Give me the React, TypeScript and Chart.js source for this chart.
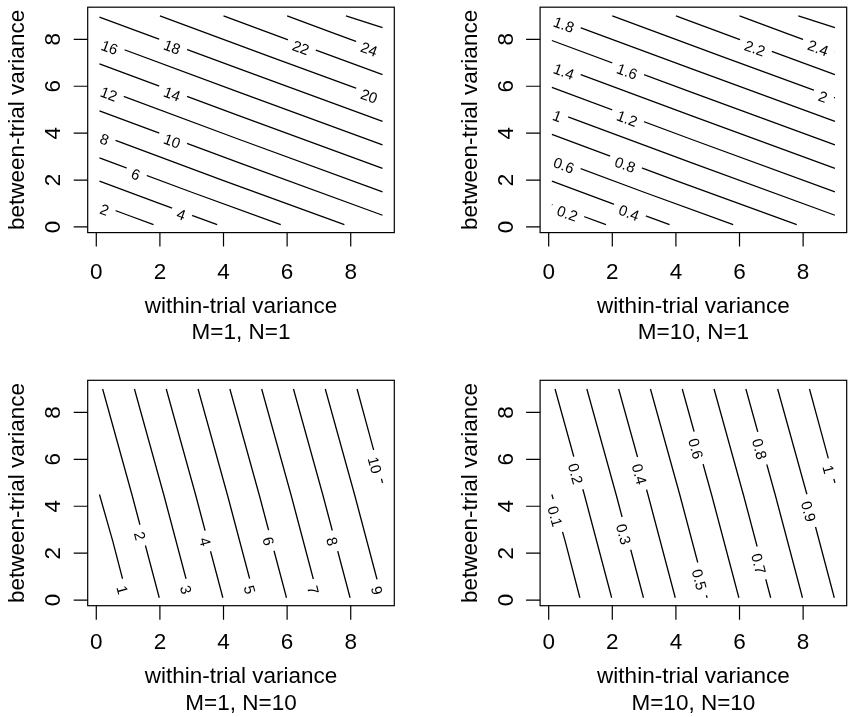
import { useEffect, useRef } from "react";
import { Chart, registerables } from "chart.js";

Chart.register(...registerables);

// ---- shared axis data ----
const X_TICKS = [0, 2, 4, 6, 8];
const Y_TICKS = [0, 2, 4, 6, 8];
const X_TITLE = "within-trial variance";
const Y_TITLE = "between-trial variance";
const X_RANGE = [-0.27, 9.37];
const Y_RANGE = [-0.24, 9.37];

// ---- top row contour lines (within, between) ----
const TOP_LINES: number[][][] = [
  [[0.1, 0.95], [1.0, 0.5], [1.8, 0.1]],
  [[0.1, 1.95], [2.0, 1.0], [3.8, 0.1]],
  [[0.1, 2.95], [3.0, 1.48], [5.8, 0.1]],
  [[0.1, 3.95], [4.0, 1.98], [7.8, 0.1]],
  [[0.1, 4.95], [4.5, 2.73], [9.0, 0.5]],
  [[0.1, 5.95], [4.5, 3.73], [9.0, 1.5]],
  [[0.1, 6.95], [4.5, 4.74], [9.0, 2.5]],
  [[0.1, 7.95], [4.5, 5.74], [9.0, 3.5]],
  [[0.1, 8.95], [4.5, 6.74], [9.0, 4.5]],
  [[2.0, 9.0], [5.5, 7.24], [9.0, 5.5]],
  [[4.0, 9.0], [6.5, 7.74], [9.0, 6.5]],
  [[6.0, 9.0], [7.5, 8.24], [9.0, 7.5]],
  [[7.85, 9.0], [9.0, 8.5]],
];

// ---- bottom row contour lines ----
const BOTTOM_LINES: number[][][] = [
  [[0.1, 4.5], [0.52, 2.5], [0.98, 0.1]],
  [[0.2, 9.0], [1.12, 4.5], [1.98, 0.1]],
  [[1.2, 9.0], [2.12, 4.5], [2.98, 0.1]],
  [[2.2, 9.0], [3.12, 4.5], [3.98, 0.1]],
  [[3.2, 9.0], [4.12, 4.5], [4.98, 0.1]],
  [[4.2, 9.0], [5.12, 4.5], [5.98, 0.1]],
  [[5.2, 9.0], [6.12, 4.5], [6.98, 0.1]],
  [[6.2, 9.0], [7.12, 4.5], [7.98, 0.1]],
  [[7.2, 9.0], [8.12, 4.5], [8.98, 0.1]],
  [[8.2, 9.0], [8.6, 7.0], [9.0, 5.0]],
];

// ---- panel 1: M=1, N=1 ----
const P1_LEVELS = ["2", "4", "6", "8", "10", "12", "14", "16", "18", "20", "22", "24", ""];
const P1_LABEL_AT: (number[] | null)[] = [
  [0.29, 0.85], [2.7, 0.65], [1.27, 2.35], [0.29, 3.85], [2.42, 3.8], [0.43, 5.8],
  [2.42, 5.8], [0.46, 7.8], [2.42, 7.8], [8.61, 5.7], [6.46, 7.75], [8.61, 7.7], null,
];

// ---- panel 2: M=10, N=1 ----
const P2_LEVELS = ["0.2", "0.4", "0.6", "0.8", "1", "1.2", "1.4", "1.6", "1.8", "2", "2.2", "2.4", ""];
const P2_LABEL_AT: (number[] | null)[] = [
  [0.62, 0.7], [2.55, 0.7], [0.51, 2.75], [2.44, 2.8], [0.3, 4.85], [2.5, 4.75],
  [0.51, 6.75], [2.5, 6.75], [0.51, 8.75], [8.66, 5.7], [6.52, 7.75], [8.5, 7.75], null,
];

// ---- panel 3: M=1, N=10 ----
const P3_LEVELS = ["1", "2", "3", "4", "5", "6", "7", "8", "9", "10"];
const P3_LABEL_AT: (number[] | null)[] = [
  [0.75, 0.41], [1.27, 2.7], [2.74, 0.41], [3.42, 2.49], [4.73, 0.41],
  [5.36, 2.49], [6.77, 0.41], [7.4, 2.49], [8.82, 0.41], [8.61, 5.7],
];

// ---- panel 4: M=10, N=10 ----
const P4_LEVELS = ["0.1", "0.2", "0.3", "0.4", "0.5", "0.6", "0.7", "0.8", "0.9", "1"];
const P4_LABEL_AT: (number[] | null)[] = [
  [0.17, 3.56], [0.72, 5.34], [2.24, 2.77], [2.76, 5.34], [4.64, 0.84],
  [4.53, 6.42], [6.62, 1.56], [6.57, 6.42], [8.14, 3.77], [8.76, 5.56],
];

const SUBTITLES = ["M=1, N=1", "M=10, N=1", "M=1, N=10", "M=10, N=10"];

const FONT = '"Liberation Sans", Arial, Helvetica, sans-serif';

type PanelCfg = {
  left: number;
  top: number;
  width: number;
  height: number;
  padding: { left: number; right: number; top: number; bottom: number };
  lines: number[][][];
  levels: string[];
  labelAt: (number[] | null)[];
  sub: string;
  tickBase: number;
  titleBase: number;
  subBase: number;
};

const PANELS: PanelCfg[] = [
  {
    left: 0, top: 0, width: 424, height: 359,
    padding: { left: 87.7, right: 29.7, top: 7.2, bottom: 126.4 },
    lines: TOP_LINES, levels: P1_LEVELS, labelAt: P1_LABEL_AT, sub: SUBTITLES[0],
    tickBase: 46.5, titleBase: 80.7, subBase: 106.5,
  },
  {
    left: 424, top: 0, width: 424, height: 359,
    padding: { left: 116.1, right: 1.3, top: 7.2, bottom: 126.4 },
    lines: TOP_LINES, levels: P2_LEVELS, labelAt: P2_LABEL_AT, sub: SUBTITLES[1],
    tickBase: 46.5, titleBase: 80.7, subBase: 106.5,
  },
  {
    left: 0, top: 359, width: 424, height: 358,
    padding: { left: 87.7, right: 29.7, top: 21.3, bottom: 111.3 },
    lines: BOTTOM_LINES, levels: P3_LEVELS, labelAt: P3_LABEL_AT, sub: SUBTITLES[2],
    tickBase: 43.3, titleBase: 77.6, subBase: 103.8,
  },
  {
    left: 424, top: 359, width: 424, height: 358,
    padding: { left: 116.1, right: 1.3, top: 21.3, bottom: 111.3 },
    lines: BOTTOM_LINES, levels: P4_LEVELS, labelAt: P4_LABEL_AT, sub: SUBTITLES[3],
    tickBase: 43.3, titleBase: 77.6, subBase: 103.8,
  },
];

function makePlugin(cfg: PanelCfg) {
  return {
    id: "rContour",
    afterDatasetsDraw(chart: any) {
      const { ctx, scales } = chart;
      const xs = scales.x;
      const ys = scales.y;
      ctx.save();
      ctx.font = `15px ${FONT}`;
      cfg.labelAt.forEach((lp, i) => {
        const text = cfg.levels[i];
        if (!lp || !text) return;
        const pts = cfg.lines[i].map((p) => [xs.getPixelForValue(p[0]), ys.getPixelForValue(p[1])]);
        const tx = xs.getPixelForValue(lp[0]);
        const ty = ys.getPixelForValue(lp[1]);
        let best = { d: Infinity, px: 0, py: 0, ang: 0 };
        for (let k = 0; k < pts.length - 1; k++) {
          const [ax, ay] = pts[k];
          const [bx, by] = pts[k + 1];
          const dx = bx - ax;
          const dy = by - ay;
          let t = ((tx - ax) * dx + (ty - ay) * dy) / (dx * dx + dy * dy);
          t = Math.max(0, Math.min(1, t));
          const px = ax + t * dx;
          const py = ay + t * dy;
          const d = (px - tx) ** 2 + (py - ty) ** 2;
          if (d < best.d) best = { d, px, py, ang: Math.atan2(dy, dx) };
        }
        let a = best.ang;
        if (a > Math.PI / 2) a -= Math.PI;
        if (a <= -Math.PI / 2) a += Math.PI;
        ctx.save();
        ctx.translate(best.px, best.py);
        ctx.rotate(a);
        const w = ctx.measureText(text).width;
        ctx.fillStyle = "#ffffff";
        ctx.fillRect(-w / 2 - 6.5, -5, w + 13, 10);
        ctx.fillStyle = "#000000";
        ctx.textAlign = "center";
        ctx.textBaseline = "middle";
        ctx.fillText(text, 0, 4);
        ctx.restore();
      });
      ctx.restore();
    },
    afterDraw(chart: any) {
      const { ctx, chartArea: a, scales } = chart;
      const xs = scales.x;
      const ys = scales.y;
      ctx.save();
      ctx.strokeStyle = "#000000";
      ctx.lineWidth = 1.2;
      ctx.strokeRect(a.left, a.top, a.right - a.left, a.bottom - a.top);
      ctx.beginPath();
      X_TICKS.forEach((v) => {
        const px = xs.getPixelForValue(v);
        ctx.moveTo(px, a.bottom);
        ctx.lineTo(px, a.bottom + 14);
      });
      Y_TICKS.forEach((v) => {
        const py = ys.getPixelForValue(v);
        ctx.moveTo(a.left, py);
        ctx.lineTo(a.left - 14, py);
      });
      ctx.stroke();

      ctx.fillStyle = "#000000";
      ctx.font = `22.5px ${FONT}`;
      ctx.textAlign = "center";
      ctx.textBaseline = "alphabetic";
      X_TICKS.forEach((v) => {
        ctx.fillText(String(v), xs.getPixelForValue(v), a.bottom + cfg.tickBase);
      });
      const cx = (a.left + a.right) / 2;
      ctx.fillText(X_TITLE, cx, a.bottom + cfg.titleBase);
      ctx.fillText(cfg.sub, cx, a.bottom + cfg.subBase);

      Y_TICKS.forEach((v) => {
        ctx.save();
        ctx.translate(a.left - 27.5, ys.getPixelForValue(v));
        ctx.rotate(-Math.PI / 2);
        ctx.fillText(String(v), 0, 0);
        ctx.restore();
      });
      ctx.save();
      ctx.translate(a.left - 63.5, (a.top + a.bottom) / 2);
      ctx.rotate(-Math.PI / 2);
      ctx.fillText(Y_TITLE, 0, 0);
      ctx.restore();
      ctx.restore();
    },
  };
}

function Panel({ cfg }: { cfg: PanelCfg }) {
  const ref = useRef<HTMLCanvasElement | null>(null);
  useEffect(() => {
    if (!ref.current) return;
    const chart = new Chart(ref.current, {
      type: "scatter",
      data: {
        datasets: cfg.lines.map((pts, i) => ({
          label: cfg.levels[i] || "unlabelled",
          data: pts.map((p) => ({ x: p[0], y: p[1] })),
          showLine: true,
          borderColor: "#000000",
          borderWidth: 1.3,
          pointRadius: 0,
          pointHoverRadius: 0,
          fill: false,
          tension: 0,
        })),
      },
      options: {
        responsive: false,
        animation: false,
        events: [],
        layout: { padding: cfg.padding },
        plugins: { legend: { display: false }, tooltip: { enabled: false } },
        scales: {
          x: { type: "linear", min: X_RANGE[0], max: X_RANGE[1], display: false },
          y: { type: "linear", min: Y_RANGE[0], max: Y_RANGE[1], display: false },
        },
      },
      plugins: [makePlugin(cfg)],
    } as any);
    return () => chart.destroy();
  }, [cfg]);
  return (
    <canvas
      ref={ref}
      width={cfg.width}
      height={cfg.height}
      style={{ position: "absolute", left: cfg.left, top: cfg.top, width: cfg.width, height: cfg.height }}
    />
  );
}

export default function App() {
  return (
    <div style={{ position: "absolute", left: 0, top: 0, width: 848, height: 717, background: "#ffffff", overflow: "hidden" }}>
      {PANELS.map((p, i) => (
        <Panel key={i} cfg={p} />
      ))}
    </div>
  );
}
